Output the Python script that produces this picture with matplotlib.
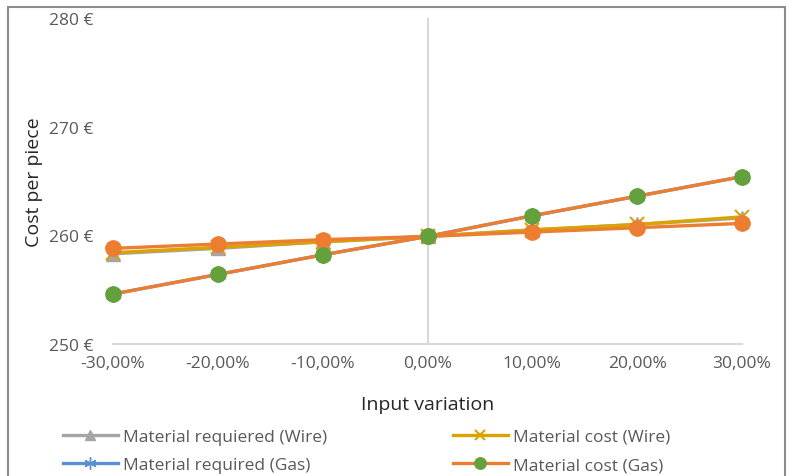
import numpy as np
import matplotlib.pyplot as plt
from matplotlib.patches import Rectangle

plt.rcParams['font.family'] = ['Open Sans', 'DejaVu Sans']

variation = [-30, -20, -10, 0, 10, 20, 30]
x_labels = ['-30,00%', '-20,00%', '-10,00%', '0,00%', '10,00%', '20,00%', '30,00%']
y_ticks = [250, 260, 270, 280]

req_wire = [258.3, 258.8, 259.4, 259.9, 260.5, 261.0, 261.6]
cost_wire = [258.4, 258.9, 259.4, 259.9, 260.5, 261.0, 261.7]
req_gas = [254.6, 256.4, 258.2, 259.9, 261.8, 263.6, 265.4]
cost_gas = [254.6, 256.4, 258.2, 259.9, 261.8, 263.6, 265.4]
cost_other = [258.8, 259.2, 259.6, 259.9, 260.3, 260.7, 261.1]

fig = plt.figure(figsize=(7.87, 4.77), dpi=100)
ax = fig.add_axes([113/787, 1-345/477, 629/787, 326/477])

lw = 2.4
h1, = ax.plot(variation, req_wire, color='#a5a5a5', lw=lw, marker='^', ms=10,
              label='Material requiered (Wire)', clip_on=False, zorder=3)
h2, = ax.plot(variation, cost_wire, color='#d9a400', lw=lw, marker='x', ms=10, mew=1.5,
              label='Material cost (Wire)', clip_on=False, zorder=4)
h3, = ax.plot(variation, req_gas, color='#5b8fd5', lw=lw, marker=(6, 2, 0), ms=12, mew=1,
              label='Material required (Gas)', clip_on=False, zorder=5)
ax.plot(variation, cost_other, color='#ed7d31', lw=lw, marker='o', ms=11,
        label='_nolegend_', clip_on=False, zorder=6)
h4, = ax.plot(variation, cost_gas, color='#ed7d31', lw=lw, marker='o', ms=11,
              mfc='#64a03c', mec='#64a03c', label='Material cost (Gas)',
              clip_on=False, zorder=7)

ax.set_xlim(-30, 30)
ax.set_ylim(250, 280)
ax.axvline(0, color='#d9d9d9', lw=1.5, zorder=1)
for s in ['top', 'right', 'left']:
    ax.spines[s].set_visible(False)
ax.spines['bottom'].set_color('#d9d9d9')
ax.spines['bottom'].set_linewidth(1.5)

ax.set_xticks(variation)
ax.set_xticklabels(x_labels)
ax.set_yticks(y_ticks)
ax.set_yticklabels([f'{v} €' for v in y_ticks])
ax.tick_params(axis='both', length=0, labelsize=12.5, labelcolor='#595959')
ax.tick_params(axis='x', pad=8)
ax.tick_params(axis='y', pad=14)

ax.set_xlabel('Input variation', fontsize=14, color='#262626')
ax.xaxis.set_label_coords(0.5, -0.155)
ax.set_ylabel('Cost per piece', fontsize=14, color='#262626')
ax.yaxis.set_label_coords(-0.112, 0.5)

# legend fills column by column, so order handles for row-wise reading
fig.legend(handles=[h1, h3, h2, h4], loc='center left',
           bbox_to_anchor=(47/787, 1-452/477), ncol=2,
           frameon=False, fontsize=12.5, labelcolor='#595959',
           handlelength=3.2, handletextpad=0.3, columnspacing=7.2,
           labelspacing=0.7, markerscale=0.75)

fig.patches.append(Rectangle((8/787, -0.05), 777/787, 1.05 - 8/477,
                             transform=fig.transFigure, fill=False,
                             edgecolor='#8c8c8c', lw=1.5))

fig.savefig('out.png', dpi=100)
